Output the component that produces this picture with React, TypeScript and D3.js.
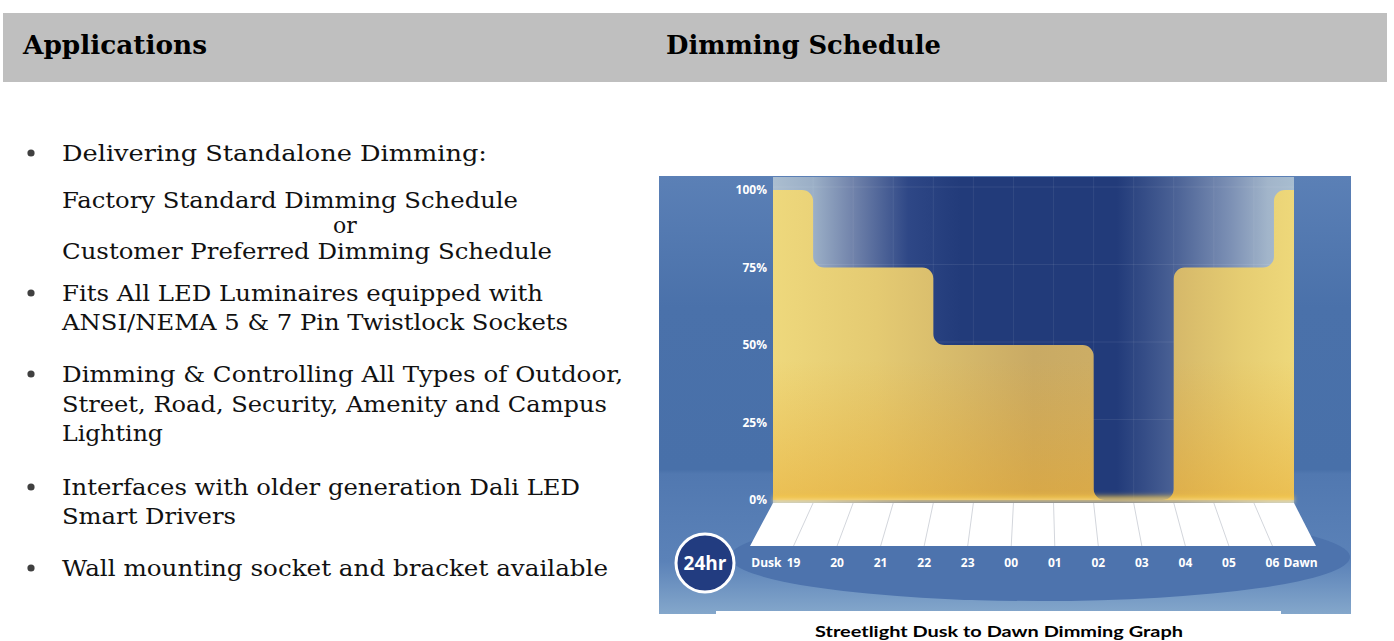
import React from "react";
import * as d3 from "d3";

const W = 1394;
const H = 641;

// hour ticks along the floor, dusk (19) to dawn (06)
const hourLabels = ["19", "20", "21", "22", "23", "00", "01", "02", "03", "04", "05", "06"];
const levelTicks = [0, 25, 50, 75, 100];
// schedule: hours after 18:00 at which each level starts, night ends at 13h (07:00)
const stepStart = [0, 1, 4, 8, 10, 12.5];
const stepLevel = [100, 75, 50, 0, 75, 100];
const nightEnd = 13;

// left column text lines: [text, baseline y, measured width]
const bulletLines: [string, number, number][] = [
  ["Delivering Standalone Dimming:", 161, 425],
  ["Factory Standard Dimming Schedule", 208, 456],
  ["Customer Preferred Dimming Schedule", 259, 490],
  ["Fits All LED Luminaires equipped with", 301, 481],
  ["ANSI/NEMA 5 & 7 Pin Twistlock Sockets", 330, 506],
  ["Dimming & Controlling All Types of Outdoor,", 382, 561],
  ["Street, Road, Security, Amenity and Campus", 412, 545],
  ["Lighting", 441, 101],
  ["Interfaces with older generation Dali LED", 495, 518],
  ["Smart Drivers", 524, 174],
  ["Wall mounting socket and bracket available", 576, 546],
];
const bulletDots = [153, 293, 374, 487, 568];

const Chart = () => {
  const frame = { x0: 659, x1: 1351, y0: 176, y1: 614 };
  const plotTop = 177;
  const floorBack = 503;
  const floorFront = 546;

  const xBack = d3.scaleLinear().domain([0, nightEnd]).range([773, 1294]);
  const xFront = d3.scaleLinear().domain([0, nightEnd]).range([750, 1316]);
  const y = d3.scaleLinear().domain([0, 100]).range([500, 190]);

  // outline of the lit area, corners rounded inside the plot
  const pts: [number, number][] = [[xBack(0), y(0)]];
  stepStart.forEach((s, i) => {
    const e = i < stepStart.length - 1 ? stepStart[i + 1] : nightEnd;
    pts.push([xBack(s), y(stepLevel[i])]);
    pts.push([xBack(e), y(stepLevel[i])]);
  });
  pts.push([xBack(nightEnd), y(0)]);
  const p = d3.path();
  p.moveTo(pts[0][0], pts[0][1]);
  for (let i = 1; i < pts.length - 1; i++) {
    const edge = pts[i][0] === xBack(0) || pts[i][0] === xBack(nightEnd);
    p.arcTo(pts[i][0], pts[i][1], pts[i + 1][0], pts[i + 1][1], edge ? 0 : 11);
  }
  p.lineTo(pts[pts.length - 1][0], pts[pts.length - 1][1]);
  p.closePath();

  const floor = [
    [xBack(0), floorBack],
    [xBack(nightEnd), floorBack],
    [xFront(nightEnd), floorFront],
    [xFront(0), floorFront],
  ];

  return (
    <g>
      <defs>
        <linearGradient id="frameGrad" x1="0" y1="0" x2="0" y2="1">
          <stop offset="0" stopColor="#5b80b6" />
          <stop offset="0.3" stopColor="#4a71aa" />
          <stop offset="0.67" stopColor="#4870a9" />
          <stop offset="0.68" stopColor="#5178b0" />
          <stop offset="0.88" stopColor="#5b82b8" />
          <stop offset="1" stopColor="#84a7cb" />
        </linearGradient>
        <linearGradient id="skyGrad" x1="0" y1="0" x2="1" y2="0">
          <stop offset="0" stopColor="#abbed0" />
          <stop offset="0.08" stopColor="#9aaec6" />
          <stop offset="0.15" stopColor="#7385ac" />
          <stop offset="0.26" stopColor="#2e4786" />
          <stop offset="0.36" stopColor="#223b7a" />
          <stop offset="0.66" stopColor="#223b7a" />
          <stop offset="0.77" stopColor="#4a6195" />
          <stop offset="0.88" stopColor="#7d91b5" />
          <stop offset="0.95" stopColor="#a2b5ca" />
          <stop offset="1" stopColor="#a8bdd0" />
        </linearGradient>
        <linearGradient id="goldGrad" x1="0" y1="0" x2="1" y2="0">
          <stop offset="0" stopColor="#eed87c" />
          <stop offset="0.2" stopColor="#e4ca72" />
          <stop offset="0.5" stopColor="#c9aa64" />
          <stop offset="0.72" stopColor="#cfb066" />
          <stop offset="0.9" stopColor="#e6cd72" />
          <stop offset="1" stopColor="#eed87a" />
        </linearGradient>
        <linearGradient id="goldShade" x1="0" y1="0" x2="0" y2="1">
          <stop offset="0" stopColor="#e8a62a" stopOpacity="0" />
          <stop offset="0.55" stopColor="#e8a62a" stopOpacity="0" />
          <stop offset="1" stopColor="#e8a62a" stopOpacity="0.5" />
        </linearGradient>
        <linearGradient id="glowGrad" x1="0" y1="0" x2="0" y2="1">
          <stop offset="0" stopColor="#f0c040" stopOpacity="0" />
          <stop offset="0.45" stopColor="#f3c84a" stopOpacity="0.9" />
          <stop offset="1" stopColor="#fff8e0" stopOpacity="0.6" />
        </linearGradient>
        <filter id="blur3" x="-5%" y="-50%" width="110%" height="200%">
          <feGaussianBlur stdDeviation="2" />
        </filter>
        <clipPath id="frameClip">
          <rect x={frame.x0} y={frame.y0} width={frame.x1 - frame.x0} height={frame.y1 - frame.y0} />
        </clipPath>
      </defs>

      <g clipPath="url(#frameClip)">
        <rect x={frame.x0} y={frame.y0} width={frame.x1 - frame.x0} height={frame.y1 - frame.y0} fill="url(#frameGrad)" />
        <ellipse cx={1040} cy={557} rx={310} ry={44} fill="#4d73ad" />

        <rect x={xBack(0)} y={plotTop} width={xBack(nightEnd) - xBack(0)} height={floorBack - plotTop} fill="url(#skyGrad)" />
        {d3.range(1, nightEnd).map((k) => (
          <line key={"v" + k} x1={xBack(k)} x2={xBack(k)} y1={plotTop} y2={y(0)} stroke="#ffffff" strokeOpacity={0.07} />
        ))}
        {levelTicks.slice(1).map((v) => (
          <line key={"h" + v} x1={xBack(0)} x2={xBack(nightEnd)} y1={y(v) - 3} y2={y(v) - 3} stroke="#ffffff" strokeOpacity={0.08} />
        ))}

        <path d={p.toString()} fill="url(#goldGrad)" />
        <path d={p.toString()} fill="url(#goldShade)" />
        <rect x={xBack(0)} y={y(0) - 6} width={xBack(nightEnd) - xBack(0)} height={10} fill="url(#glowGrad)" filter="url(#blur3)" />

        <polygon points={floor.map((d) => d.join(",")).join(" ")} fill="#ffffff" />
        {d3.range(1, nightEnd).map((k) => (
          <line key={"f" + k} x1={xBack(k)} y1={floorBack} x2={xFront(k)} y2={floorFront} stroke="#d3d6dc" strokeWidth={1} />
        ))}

        {levelTicks.map((v) => (
          <text key={v} x={767} y={y(v) + 4} textAnchor="end" fill="#ffffff" fontFamily="Open Sans" fontWeight={700} fontSize={12}>
            {v}%
          </text>
        ))}

        {hourLabels.map((h, i) => (
          <text key={h} x={xFront(i + 1)} y={567} textAnchor="middle" fill="#ffffff" fontFamily="Open Sans" fontWeight={700} fontSize={12}>
            {h}
          </text>
        ))}
        <text x={xFront(1) - 12} y={567} textAnchor="end" fill="#ffffff" fontFamily="Open Sans" fontWeight={700} fontSize={12}>
          Dusk
        </text>
        <text x={xFront(hourLabels.length) + 11} y={567} fill="#ffffff" fontFamily="Open Sans" fontWeight={700} fontSize={12}>
          Dawn
        </text>

        <circle cx={705} cy={563} r={29} fill="#223c80" stroke="#ffffff" strokeWidth={3} />
        <text x={705} y={570} textAnchor="middle" fill="#ffffff" fontFamily="Open Sans" fontWeight={700} fontSize={19}>
          24hr
        </text>
      </g>

      <rect x={716} y={611} width={565} height={30} fill="#ffffff" />
      <text x={999} y={637} textAnchor="middle" fontFamily="Lato" fontWeight={700} fontSize={16} textLength={368} lengthAdjust="spacingAndGlyphs" fill="#000000">
        Streetlight Dusk to Dawn Dimming Graph
      </text>
    </g>
  );
};

export default function App() {
  return (
    <svg width={W} height={H} viewBox={`0 0 ${W} ${H}`} style={{ position: "absolute", left: 0, top: 0, background: "#ffffff" }}>
      <rect x={3} y={13} width={1384} height={69} fill="#bfbfbf" />
      <text x={23} y={54} fontFamily="DejaVu Serif" fontWeight={700} fontSize={26} textLength={184} lengthAdjust="spacingAndGlyphs" fill="#000">
        Applications
      </text>
      <text x={666} y={54} fontFamily="DejaVu Serif" fontWeight={700} fontSize={26} textLength={275} lengthAdjust="spacingAndGlyphs" fill="#000">
        Dimming Schedule
      </text>

      {bulletDots.map((cy) => (
        <circle key={cy} cx={31} cy={cy} r={3.6} fill="#404040" />
      ))}
      {bulletLines.map(([t, by, w]) => (
        <text key={t} x={62} y={by} fontFamily="DejaVu Serif" fontSize={23} textLength={w} lengthAdjust="spacingAndGlyphs" fill="#111">
          {t}
        </text>
      ))}
      <text x={345} y={233} textAnchor="middle" fontFamily="DejaVu Serif" fontSize={22} fill="#111">
        or
      </text>

      <Chart />
    </svg>
  );
}
